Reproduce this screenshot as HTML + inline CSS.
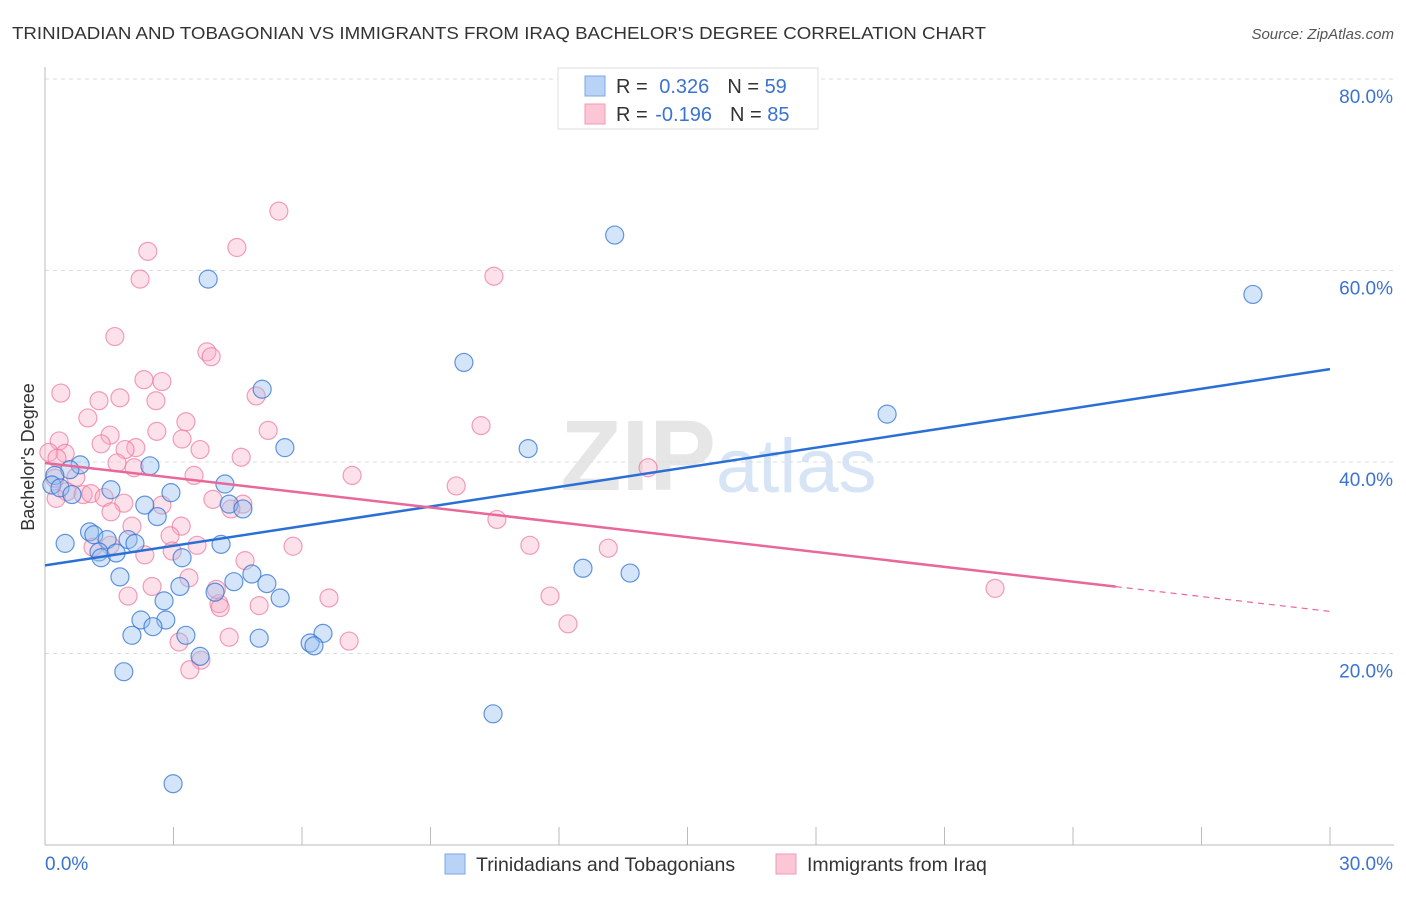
<!DOCTYPE html>
<html><head><meta charset="utf-8"><style>
body{margin:0;background:#fff;font-family:"Liberation Sans",sans-serif}
svg text{font-family:"Liberation Sans",sans-serif}
</style></head><body>
<svg id="chart" width="1406" height="892" viewBox="0 0 1406 892">
<text x="12" y="39" font-size="17.5" fill="#333" textLength="974" lengthAdjust="spacingAndGlyphs">TRINIDADIAN AND TOBAGONIAN VS IMMIGRANTS FROM IRAQ BACHELOR'S DEGREE CORRELATION CHART</text>
<text x="1394" y="39" font-size="15" fill="#555" text-anchor="end" font-style="italic">Source: ZipAtlas.com</text>
<text x="716" y="490" font-size="100" fill="#e6e6e6" text-anchor="end" font-family="Liberation Serif" font-weight="bold">ZIP</text>
<text x="716" y="492" font-size="76" fill="#d6e4f5">atlas</text>
<g id="grid"></g><g id="axes"></g><g id="pts"></g><g id="lines"></g>
<text transform="translate(34,457) rotate(-90)" font-size="18" fill="#333" text-anchor="middle">Bachelor's Degree</text>
<rect x="558" y="68" width="260" height="61" fill="#fff" stroke="#ddd"/>
<rect x="585" y="76" width="20" height="20" fill="#b8d3f5" stroke="#7aa7e5"/>
<rect x="585" y="104" width="20" height="20" fill="#fbc6d6" stroke="#f09ab5"/>
<text x="616" y="93" font-size="20" fill="#333">R = <tspan fill="#3b73d1" dx="6">0.326</tspan><tspan dx="18">N = </tspan><tspan fill="#3b73d1">59</tspan></text>
<text x="616" y="121" font-size="20" fill="#333">R = <tspan fill="#3b73d1" dx="2">-0.196</tspan><tspan dx="18">N = </tspan><tspan fill="#3b73d1">85</tspan></text>
<rect x="445" y="854" width="20" height="20" fill="#b8d3f5" stroke="#7aa7e5"/>
<text x="476" y="871" font-size="19.5" fill="#333">Trinidadians and Tobagonians</text>
<rect x="776" y="854" width="20" height="20" fill="#fbc6d6" stroke="#f09ab5"/>
<text x="807" y="871" font-size="19.5" fill="#333">Immigrants from Iraq</text>
</svg>
<script>
const xTicks=[0,30];
const yTicks=[20,40,60,80];
const blueX=[13.3,3.81,28.2,9.78,5.07,19.66,5.6,11.28,2.45,0.82,0.58,0.23,0.16,0.35,0.63,1.54,2.94,4.2,2.33,4.3,4.62,2.62,1.04,1.14,0.47,1.45,1.94,2.1,4.11,1.26,1.31,1.66,3.2,1.75,4.83,4.41,5.18,3.15,12.56,13.66,3.97,5.49,2.78,2.24,2.82,2.52,2.03,3.29,5.0,6.49,6.19,6.28,3.62,1.84,10.46,2.99];
const blueY=[63.7,59.1,57.5,50.4,47.6,45.0,41.5,41.4,39.6,39.7,39.2,38.6,37.6,37.3,36.6,37.1,36.8,37.7,35.5,35.6,35.1,34.3,32.7,32.4,31.5,31.9,31.9,31.5,31.4,30.6,30.0,30.5,30.0,28.0,28.3,27.5,27.3,27.0,28.9,28.4,26.4,25.8,25.5,23.5,23.5,22.8,21.9,21.9,21.6,22.1,21.1,20.8,19.7,18.1,13.7,6.4];
const pinkX=[5.46,4.48,2.4,2.22,10.48,1.63,3.78,3.88,2.31,2.73,0.37,1.75,1.26,2.59,4.93,1.0,3.29,10.18,5.21,2.61,1.52,3.2,0.33,1.31,2.12,3.62,1.87,0.09,0.47,0.28,4.58,1.68,2.08,14.08,3.48,7.17,0.23,0.72,9.6,0.51,0.89,1.07,1.38,0.26,1.84,2.73,3.92,4.62,4.34,1.54,10.55,2.03,3.18,2.92,3.55,5.79,11.32,13.15,1.12,2.33,2.97,4.67,3.36,2.5,22.18,1.94,6.63,11.79,4.06,5.0,4.09,12.21,4.3,7.1,3.13,3.64,3.38,4.0,1.52];
const pinkY=[66.2,62.4,62.0,59.1,59.4,53.1,51.5,51.0,48.6,48.4,47.2,46.7,46.4,46.4,46.9,44.6,44.2,43.8,43.3,43.2,42.8,42.4,42.2,41.9,41.5,41.3,41.3,41.0,40.9,40.4,40.5,39.9,39.4,39.4,38.6,38.6,38.3,38.4,37.5,36.9,36.6,36.7,36.3,36.2,35.7,35.5,36.1,35.6,35.1,34.8,34.0,33.3,33.3,32.3,31.3,31.2,31.3,31.0,31.1,30.3,30.7,29.7,27.9,27.0,26.8,26.0,25.8,26.0,25.2,25.0,24.8,23.1,21.7,21.3,21.2,19.3,18.3,26.7,31.3];
const blueTrend=[29.2,49.7];
const pinkTrend=[39.9,24.4];
const X0=45,X1=1330,Y0=845,PXY=191.5/20;
const sx=v=>X0+(v/30)*(X1-X0);
const sy=v=>Y0-v*PXY;
const NS='http://www.w3.org/2000/svg';
function mk(tag,attrs,parent){const e=document.createElementNS(NS,tag);for(const k in attrs)e.setAttribute(k,attrs[k]);parent.appendChild(e);return e;}
const grid=document.getElementById('grid'),axes=document.getElementById('axes'),pts=document.getElementById('pts'),lines=document.getElementById('lines');
yTicks.forEach(t=>{
 const l=mk('line',{x1:X0,x2:1394,y1:sy(t),y2:sy(t),stroke:'#ddd','stroke-dasharray':'4,4'},grid);
 
 
 const tx=mk('text',{x:1393,y:sy(t)+24,'font-size':19,fill:'#3b73d1','text-anchor':'end'},axes);
 tx.textContent=t.toFixed(1)+'%';
 
 
});
const ax=mk('line',{x1:X0,x2:X0,y1:67,y2:Y0,stroke:'#bbb'},axes);


const bx=mk('line',{x1:X0,x2:1394,y1:Y0,y2:Y0,stroke:'#bbb'},axes);


for(let i=1;i<=10;i++){const px=X0+i*(X1-X0)/10;const tk=mk('line',{x1:px,x2:px,y1:Y0,y2:Y0-18,stroke:'#bbb'},axes);
 
 }
xTicks.forEach((t,i)=>{const tx=mk('text',{x:i?1393:45,y:870,'font-size':19,fill:'#3b73d1','text-anchor':i?'end':'start'},axes);
 tx.textContent=t.toFixed(1)+'%';
 
 });
pinkX.forEach((v,i)=>{const c=mk('circle',{cx:sx(v),cy:sy(pinkY[i]),r:9,fill:'rgba(248,170,195,0.35)',stroke:'rgba(235,120,155,0.7)','stroke-width':1.2},pts);
 
 });
blueX.forEach((v,i)=>{const c=mk('circle',{cx:sx(v),cy:sy(blueY[i]),r:9,fill:'rgba(150,190,240,0.4)',stroke:'rgba(50,115,210,0.75)','stroke-width':1.2},pts);
 
 });
const bl=mk('line',{x1:sx(0),y1:sy(blueTrend[0]),x2:sx(30),y2:sy(blueTrend[1]),stroke:'#2a6fd6','stroke-width':2.5},lines);


const pAt=x=>pinkTrend[0]+(pinkTrend[1]-pinkTrend[0])*x/30;
const pl=mk('line',{x1:sx(0),y1:sy(pAt(0)),x2:sx(25),y2:sy(pAt(25)),stroke:'#e8689a','stroke-width':2.5},lines);


const pd=mk('line',{x1:sx(25),y1:sy(pAt(25)),x2:sx(30),y2:sy(pAt(30)),stroke:'#e8689a','stroke-width':1.2,'stroke-dasharray':'6,5'},lines);


</script>
</body></html>
